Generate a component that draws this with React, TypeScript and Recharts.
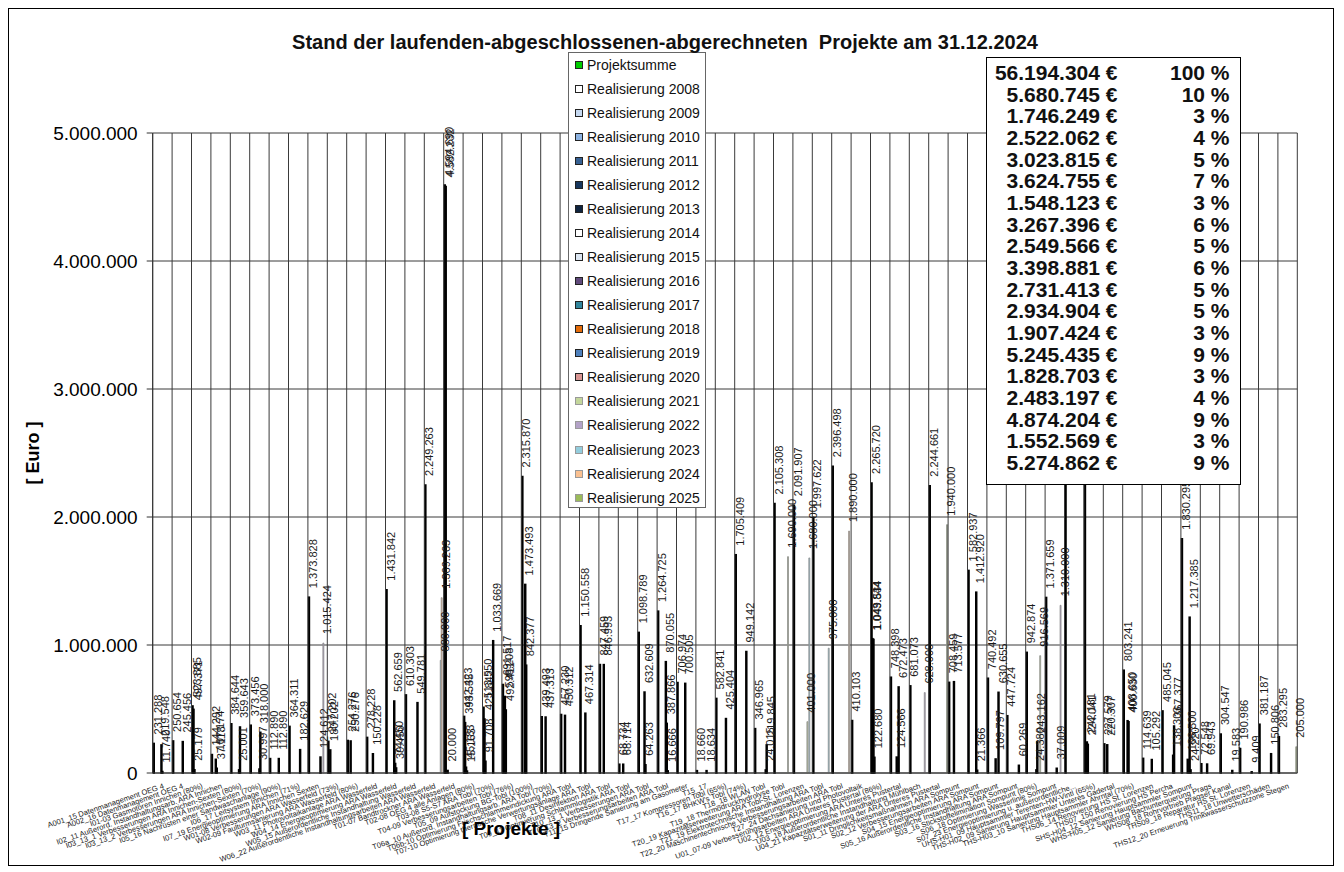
import { BarChart, Bar, XAxis, YAxis, CartesianGrid, ReferenceLine, LabelList, Legend } from "recharts";

// project names (x axis categories)
const projects = [
  "A001_15 Datenmanagement OEG 4",
  "A002_16 Datenmanagement OEG 4",
  "I01-03 Gasmotoren Innichen (80%)",
  "I02_11 Außerord. Instandhaltungsarb. ARA Innichen",
  "I03_13_1 Verbesserungen ARA Innichen-Sexten (80%)",
  "I03_13_2 Verbesserungen ARA Innichen-Sexten (70%)",
  "I05_16 Nachrüsten einer Sandwaschanlage (90%)",
  "I06_17 Leitsystem Innichen (71%)",
  "I07_19 Energieoptimierung ARA Innichen Sexten",
  "W01-08 Verbesserungen ARA Wasserfeld (73%)",
  "W02-09 Faulturmsanierung ARA Wasserfeld (80%)",
  "W03_11 Photovoltaikanlage ARA Wasserfeld",
  "W04_14 Energieoptimierung ARA Wasserfeld",
  "W05_15 Außerordentliche Instandhaltung Wasserfeld",
  "W06_22 Außerordentliche Instandhaltungsarbeiten ARA Wasserfeld",
  "T01-07 Bandtrockner ARA Wasserfeld",
  "T02-08 OEG 4 alle Anlagen (80%)",
  "T03-08 S5-S7 ARA Tobl (70%)",
  "T04-09 Verbesserungsarbeiten Tobl (76%)",
  "T05_09 Aufstockung BG-Tobl (100%)",
  "T06a_10 Außerord. Instandhaltungsarb. ARA Tobl (70%)",
  "T06b-10 Optimierung Frischschlammeindickung ARA Tobl",
  "T07-10 Optimierung thermische Verwertungsanlage ARA Tobl",
  "T08_11 Desinfektion ARA Tobl",
  "T09_11 Optimierung Schlammlogistik ARA Tobl",
  "T10_13_1 Verbesserungen ARA Tobl",
  "T10_13_2 Verbesserungsarbeiten ARA Tobl",
  "T11_15 Dringende Sanierung am Gasometer",
  "T15_17",
  "T17_17 Kompressoren Tobl (65%)",
  "T16_17 BHKW's Tobl (74%)",
  "T18_18 WLAN Tobl",
  "T19_18 Thermodruckhydrolyse Tobl",
  "T20_19 Kapazitätserweiterung ARA Tobl-St. Lorenzen",
  "T21_19 Elektrotechnische Instandhaltung ARA Tobl",
  "T22_20 Maschinentechnische Verbesserungsarbeiten ARA Tobl",
  "T27_24 Dachsanierung und Photovoltaik",
  "U01_07-09 Verbesserungsarbeiten ARA Unteres Pustertal (86%)",
  "U02_12 Energieoptimierung ARA Unteres Pustertal",
  "U03_18 Außerordentliche Instandhaltung Mühlbach",
  "U04_21 Kapazitätserweiterung der ARA Unteres Pustertal",
  "S01_11 Dringlichkeitsmaßnahmen ARA Sompunt",
  "S02_12 Verbesserungsarbeiten ARA Sompunt",
  "S04_15 Energieoptimierung ARA Sompunt",
  "S05_16 Außerordentliche Instandhaltung ARA Sompunt",
  "S03_16 Stickstoffelimination Sompunt (80%)",
  "S06_18 Optimierung Wasserlinie Sompunt",
  "S07_23 Energieoptimierung u. außerordentliche...",
  "UHS-H01_09 Hauptsammler Terenten-HW-Vintl (65%)",
  "THS-H02_09 Sanierung Hauptsammler Unteres Gadertal",
  "THS-H03_10 Sanierung Hauptsammler Ahrntal (70%)",
  "THS06_14 Renovierung HS St. Lorenzen",
  "THS07_150 Renovierung HS Percha",
  "SHS-H04_12 Sanierung Hauptsammler Sompunt",
  "WHS-H05_12 Sanierung Bachunterquerung Prags",
  "WHS08_18 Rohrvortrieb Pragser Kanal",
  "THS09_18 Reparatur HS St. Lorenzen",
  "THS11_18 Unwetterschäden",
  "THS12_20 Erneuerung Trinkwasserschutzzone Stegen",
];

const projektsumme = [
  231288, 250654, 523885, 144292, 384644, 373456, 112890, 364311, 1373828, 247202,
  254276, 278228, 1431842, 610303, 2249263, 4594690, 442423, 513550, 691517, 2315870,
  439493, 457230, 1150558, 847459, 68734, 1098789, 1264725, 706974, 18660, 582841,
  1705409, 346965, 2105308, 2091907, 1997622, 2396498, 410103, 2265720, 748398, 681073,
  2244661, 708459, 1582937, 740492, 447724, 942874, 1371659, 2680000, 2620000, 227579,
  803241, 114639, 485045, 1830295, 72548, 304547, 190986, 381187, 283295,
];

const years = [2008, 2009, 2010, 2011, 2012, 2013, 2014, 2015, 2016, 2017, 2018, 2019, 2020, 2021, 2022, 2023, 2024, 2025];
const yearColors = [
  "#ffffff", "#c6d9f1", "#8db3e2", "#366092", "#17375e", "#10243e", "#ffffff", "#dce6f2", "#604a7b",
  "#31859c", "#e46c0a", "#4f81bd", "#d99694", "#c3d69b", "#b3a2c7", "#93cddd", "#fac090", "#9bbb59",
];

// realisation per project and year: [project index, year, euro]
const realisierung: [number, number, number][] = [
  [0, 2015, 219548], [0, 2016, 11740],
  [1, 2017, 245456],
  [2, 2008, 497371], [2, 2009, 25179],
  [3, 2011, 107174], [3, 2012, 37118],
  [4, 2015, 25001], [4, 2016, 359643],
  [5, 2016, 30997], [5, 2017, 318000],
  [6, 2016, 112890],
  [7, 2018, 182629],
  [8, 2019, 124612], [8, 2022, 1015424],
  [9, 2009, 180202],
  [10, 2010, 250276],
  [11, 2013, 150228],
  [12, 2015, 562659], [12, 2016, 74450], [12, 2017, 39450],
  [13, 2019, 549781],
  [14, 2023, 880000], [14, 2024, 1369263],
  [15, 2008, 4582232], [15, 2010, 20000],
  [16, 2008, 393535], [16, 2009, 45183], [16, 2010, 15163],
  [17, 2008, 421842], [17, 2009, 91708], [17, 2017, 1033669],
  [18, 2009, 598208], [18, 2010, 492411],
  [19, 2010, 1473493], [19, 2011, 842377],
  [20, 2011, 437313], [20, 2022, 0],
  [21, 2011, 450312], [21, 2023, 0],
  [22, 2012, 467314],
  [23, 2011, 846993], [23, 2016, 0],
  [24, 2011, 68714],
  [25, 2013, 632609], [25, 2014, 64263],
  [26, 2015, 870055], [26, 2016, 387866], [26, 2017, 16666],
  [27, 2015, 700505],
  [28, 2017, 18634],
  [29, 2017, 425404],
  [30, 2018, 949142],
  [31, 2018, 24015], [31, 2019, 219845],
  [32, 2021, 1690000],
  [33, 2021, 401000], [33, 2023, 1680000],
  [34, 2023, 975000],
  [35, 2024, 1890000],
  [37, 2008, 1049534], [37, 2009, 1043844], [37, 2010, 122680],
  [38, 2013, 124566], [38, 2015, 672473],
  [39, 2022, 628000],
  [40, 2025, 1940000],
  [41, 2012, 713577],
  [42, 2015, 1412920], [42, 2016, 21366],
  [43, 2015, 109797], [43, 2018, 630655],
  [44, 2019, 60269],
  [45, 2017, 24380], [45, 2018, 243162], [45, 2021, 916569],
  [46, 2018, 37009], [46, 2022, 1310000],
  [48, 2009, 242181], [48, 2010, 224041],
  [49, 2010, 220307],
  [50, 2011, 408650], [50, 2012, 400630],
  [51, 2016, 105292],
  [52, 2018, 138303], [52, 2019, 367377],
  [53, 2013, 106500], [53, 2015, 1217385], [53, 2016, 24220],
  [54, 2013, 69943],
  [55, 2019, 19583],
  [56, 2019, 9409],
  [57, 2019, 150806],
  [58, 2025, 205000],
];

// summary box: total and yearly sums
const summeGesamt = 56194304;
const summeJahre = [
  5680745, 1746249, 2522062, 3023815, 3624755, 1548123, 3267396, 2549566, 3398881,
  2731413, 2934904, 1907424, 5245435, 1828703, 2483197, 4874204, 1552569, 5274862,
];
const anteilJahre = [10, 3, 4, 5, 7, 3, 6, 5, 6, 5, 5, 3, 9, 3, 4, 9, 3, 9];

const yTicks = [0, 1000000, 2000000, 3000000, 4000000, 5000000];

const fmt = (v: number) => String(Math.round(v)).replace(/\B(?=(\d{3})+(?!\d))/g, ".");

const data = projects.map((name, i) => {
  const row: Record<string, any> = { name, ps: projektsumme[i] };
  return row;
});
realisierung.forEach(([p, y, v]) => {
  data[p]["r" + y] = v;
});

const series = [
  { key: "ps", name: "Projektsumme", fill: "#00cc00", stroke: "#000" },
  ...years.map((y, i) => ({
    key: "r" + y,
    name: "Realisierung " + y,
    fill: yearColors[i],
    stroke: y >= 2021 ? "#8a8a8a" : "#000",
  })),
];

const BarValue = (props: any) => {
  const { x, y, width, value } = props;
  if (value === undefined || value === null) return null;
  const cx = x + width / 2 + 4;
  const cy = y - 9;
  return (
    <text
      x={cx}
      y={cy}
      transform={`rotate(-90 ${cx} ${cy})`}
      textAnchor="start"
      dominantBaseline="central"
      fontSize={11}
      fill="#1a1a1a"
      fontFamily="Arial"
    >
      {fmt(value)}
    </text>
  );
};

const ProjectTick = (props: any) => {
  const { x, y, payload } = props;
  const ty = y + 7;
  return (
    <text
      x={x + 2}
      y={ty}
      transform={`rotate(-19 ${x + 2} ${ty})`}
      textAnchor="end"
      fontSize={7.6}
      fill="#222"
      fontFamily="Arial"
    >
      {payload.value}
    </text>
  );
};

const LegendBox = (props: any) => {
  const items = props.payload || [];
  return (
    <div
      style={{
        width: 138,
        height: 456,
        boxSizing: "border-box",
        border: "1px solid #666",
        background: "#fff",
        fontFamily: "Arial",
        fontSize: 14,
        color: "#111",
      }}
    >
      {items.map((it: any) => (
        <div key={it.value} style={{ height: 24.04, display: "flex", alignItems: "center", paddingLeft: 6, whiteSpace: "nowrap" }}>
          <span
            style={{
              display: "inline-block",
              width: 6,
              height: 6,
              background: it.color,
              border: "1.4px solid " + (it.payload && it.payload.stroke === "#000" ? "#222" : "#999"),
              marginRight: 4,
            }}
          />
          {it.value}
        </div>
      ))}
    </div>
  );
};

export default function App() {
  return (
    <div
      style={{
        position: "relative",
        width: 1326,
        height: 858,
        border: "1px solid #000",
        boxSizing: "border-box",
        fontFamily: "Arial",
        background: "#fff",
      }}
    >
      <BarChart
        width={1324}
        height={856}
        data={data}
        margin={{ top: 124, right: 35.7, left: 3.7, bottom: 0 }}
        barGap={0}
        barCategoryGap="3%"
      >
        <CartesianGrid vertical={false} stroke="#3a3a3a" strokeWidth={1} />
        {projects.map((p) => (
          <ReferenceLine key={p} x={p} position="start" stroke="#3a3a3a" strokeWidth={1} ifOverflow="visible" />
        ))}
        <ReferenceLine x={projects[projects.length - 1]} position="end" stroke="#3a3a3a" strokeWidth={1} ifOverflow="visible" />
        <XAxis
          dataKey="name"
          interval={0}
          height={92}
          tickLine={false}
          axisLine={{ stroke: "#333" }}
          tick={<ProjectTick />}
        />
        <YAxis
          width={140}
          domain={[0, 5000000]}
          ticks={yTicks}
          tickFormatter={fmt}
          tickSize={6}
          tickMargin={9}
          axisLine={{ stroke: "#333" }}
          tickLine={{ stroke: "#333" }}
          tick={{ fontSize: 19, fill: "#000", fontFamily: "Arial" }}
        />
        <Legend
          layout="vertical"
          align="center"
          verticalAlign="middle"
          width={138}
          content={<LegendBox />}
          wrapperStyle={{ left: 559, top: 43, width: 138, height: 456 }}
        />
        {series.map((s) => (
          <Bar
            key={s.key}
            dataKey={s.key}
            name={s.name}
            fill={s.fill}
            stroke={s.stroke}
            strokeWidth={s.stroke === "#000" ? 1.5 : 0.8}
            isAnimationActive={false}
          >
            <LabelList dataKey={s.key} content={<BarValue />} />
          </Bar>
        ))}
      </BarChart>

      <div
        style={{
          position: "absolute",
          left: 0,
          width: 1312,
          top: 22,
          textAlign: "center",
          fontSize: 20,
          fontWeight: "bold",
          whiteSpace: "pre",
          color: "#111",
        }}
      >
        {"Stand der laufenden-abgeschlossenen-abgerechneten  Projekte am 31.12.2024"}
      </div>

      <div
        style={{
          position: "absolute",
          left: 24,
          top: 444,
          transform: "translate(-50%, -50%) rotate(-90deg)",
          fontSize: 18,
          fontWeight: "bold",
          whiteSpace: "pre",
        }}
      >
        {"[ Euro ]"}
      </div>

      <div
        style={{
          position: "absolute",
          left: 502,
          top: 820,
          transform: "translate(-50%, -50%)",
          fontSize: 19,
          fontWeight: "bold",
          whiteSpace: "pre",
        }}
      >
        {"[ Projekte ]"}
      </div>

      <div
        style={{
          position: "absolute",
          left: 977,
          top: 48,
          width: 255,
          height: 428,
          boxSizing: "border-box",
          border: "1.5px solid #000",
          background: "#fff",
          paddingTop: 4,
          fontSize: 21,
          fontWeight: "bold",
          color: "#111",
        }}
      >
        {[summeGesamt, ...summeJahre].map((v, i) => (
          <div key={i} style={{ position: "relative", height: 21.67, lineHeight: "21.67px" }}>
            <span style={{ position: "absolute", right: 255 - 131 - 1.5, whiteSpace: "nowrap" }}>{fmt(v) + " €"}</span>
            <span style={{ position: "absolute", right: 255 - 243 - 1.5, whiteSpace: "nowrap" }}>
              {(i === 0 ? 100 : anteilJahre[i - 1]) + " %"}
            </span>
          </div>
        ))}
      </div>
    </div>
  );
}
